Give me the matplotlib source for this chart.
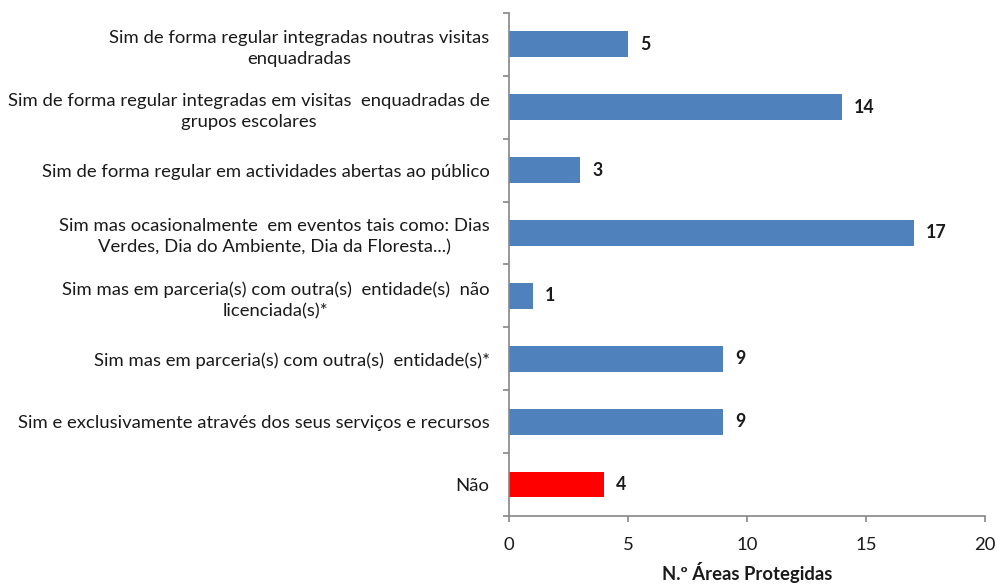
import matplotlib as mtl
mtl.use('Agg')
import matplotlib.pyplot as plt
import numpy as np

plt.rcParams['font.family'] = ['Lato', 'DejaVu Sans']

### DATA ###
categorias = [
    'Sim de forma regular integradas noutras visitas\nenquadradas',
    'Sim de forma regular integradas em visitas  enquadradas de\ngrupos escolares',
    'Sim de forma regular em actividades abertas ao público',
    'Sim mas ocasionalmente  em eventos tais como: Dias\nVerdes, Dia do Ambiente, Dia da Floresta...)',
    'Sim mas em parceria(s) com outra(s)  entidade(s)  não\nlicenciada(s)*',
    'Sim mas em parceria(s) com outra(s)  entidade(s)*',
    'Sim e exclusivamente através dos seus serviços e recursos',
    'Não',
]
valores = [5, 14, 3, 17, 1, 9, 9, 4]
cores = ['#4F81BD'] * 7 + ['#FF0000']
xticks = [0, 5, 10, 15, 20]

FS = 13.3

### PLOT ###
fig = plt.figure(figsize=(9.97, 5.85), dpi=100)
ax = fig.add_axes([0.5105, 0.118, 0.988 - 0.5105, 0.978 - 0.118])

y = np.arange(len(categorias))
ax.barh(y, valores, height=0.41, color=cores)
for yi, v in zip(y, valores):
    ax.text(v + 0.5, yi, str(v), va='center', ha='left', fontsize=FS - 0.5,
            fontweight='bold', color='#1a1a1a')

ax.set_ylim(len(categorias) - 0.5, -0.5)
ax.set_xlim(0, 20)
ax.set_xticks(xticks)
ax.set_yticks(y)
ax.set_yticklabels(categorias, fontsize=FS, ha='right', multialignment='center',
                   linespacing=1.4, color='#1a1a1a')
ax.set_yticks(np.arange(len(categorias) + 1) - 0.5, minor=True)
ax.tick_params(axis='y', which='major', length=0, pad=14)
ax.tick_params(axis='y', which='minor', length=4.5, color='#868686', width=1.2)
ax.tick_params(axis='x', length=4.5, color='#868686', width=1.2, labelsize=FS,
               labelcolor='#1a1a1a', pad=11)

for s in ['top', 'right']:
    ax.spines[s].set_visible(False)
for s in ['left', 'bottom']:
    ax.spines[s].set_color('#868686')
    ax.spines[s].set_linewidth(1.2)

ax.set_xlabel('N.º Áreas Protegidas', fontsize=FS, fontweight='bold', color='#1a1a1a')
ax.xaxis.set_label_coords(0.5, -0.112)
ax.xaxis.label.set_va('center')

plt.savefig('out.png')
